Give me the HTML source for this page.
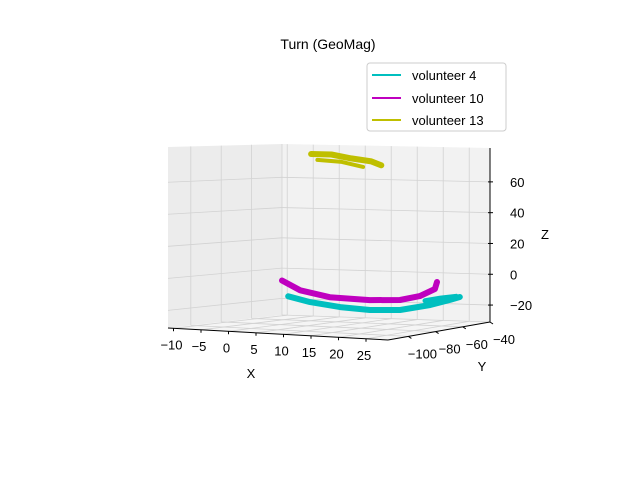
<!DOCTYPE html>
<html><head><meta charset="utf-8"><style>
body{margin:0;background:#fff;}
svg{display:block;font-family:"Liberation Sans","DejaVu Sans",sans-serif;}
</style></head><body>
<svg id="chart" width="640" height="480" viewBox="0 0 640 480" xmlns="http://www.w3.org/2000/svg">
<rect width="640" height="480" fill="#fff"/>
<text x="328" y="49" font-size="14" text-anchor="middle">Turn (GeoMag)</text>
<g id="panes"></g><g id="grid"></g><g id="series"></g><g id="axes"></g>
<g>
<rect x="367" y="63" width="139" height="68" rx="3" fill="#fff" stroke="#ccc"/>
<g><line x1="372" y1="75" x2="401" y2="75" stroke="#00bfbf" stroke-width="2"/><text x="412" y="80" font-size="13">volunteer 4</text></g>
<g><line x1="372" y1="98" x2="401" y2="98" stroke="#bf00bf" stroke-width="2"/><text x="412" y="103" font-size="13">volunteer 10</text></g>
<g><line x1="372" y1="120" x2="401" y2="120" stroke="#bfbf00" stroke-width="2"/><text x="412" y="125" font-size="13">volunteer 13</text></g>
</g>
</svg>
<script>
const xTicks=[-10,-5,0,5,10,15,20,25];
const yTicks=[-100,-80,-60,-40];
const zTicks=[-20,0,20,40,60];
const seriesNames=["volunteer 4","volunteer 10","volunteer 13"];
const seriesColors=["#00bfbf","#bf00bf","#bfbf00"];
const v4X=[-9.8,-5.6,0.2,5.9,11.7,17.5,21.3,23.2];
const v4Z=[-18.5,-21.9,-24.5,-25.8,-25.1,-21.2,-17.5,-15.4];
const v4bX=[16.5,19.5,22.5];
const v4bZ=[-18.5,-16.5,-15];
const v10X=[-11,-7.5,-1.8,5.9,11.7,15.5,18.4,18.8];
const v10Z=[-8.2,-14.3,-18.2,-19.3,-18.6,-15.6,-10.7,-6.1];
const v13X=[-5.4,-1.5,2.3,6.2,8.1];
const v13Z=[75.8,75.7,73.4,71.7,69.3];
const v13bX=[-4.2,0.5,4.6];
const v13bZ=[72,71,68];

const XMIN=-11,XMAX=29,YMIN=-115,YMAX=-40,ZMIN=-31,ZMAX=82;
const A=[168,328],B=[388,340],C=[490,322],D=[282,315];
const HA=181,HB=181,HC=174,HD=171;
const NS="http://www.w3.org/2000/svg";
function lerp(p,q,t){return [p[0]+(q[0]-p[0])*t,p[1]+(q[1]-p[1])*t];}
function proj(x,y,z){
 const u=(x-XMIN)/(XMAX-XMIN), v=(y-YMIN)/(YMAX-YMIN), w=(z-ZMIN)/(ZMAX-ZMIN);
 const f=lerp(lerp(A,B,u),lerp(D,C,u),v);
 const h=(HA*(1-u)+HB*u)*(1-v)+(HD*(1-u)+HC*u)*v;
 return [f[0],f[1]-w*h];
}
function el(tag,attrs,parent){const e=document.createElementNS(NS,tag);for(const k in attrs)e.setAttribute(k,attrs[k]);parent.appendChild(e);return e;}
function pts(a){return a.map(p=>p[0].toFixed(1)+","+p[1].toFixed(1)).join(" ");}
const panes=document.getElementById("panes"),grid=document.getElementById("grid"),series=document.getElementById("series"),axes=document.getElementById("axes");
let p=el("polygon",{points:pts([proj(XMIN,YMIN,ZMIN),proj(XMIN,YMAX,ZMIN),proj(XMIN,YMAX,ZMAX),proj(XMIN,YMIN,ZMAX)]),fill:"#ececec"},panes);

p=el("polygon",{points:pts([proj(XMIN,YMAX,ZMIN),proj(XMAX,YMAX,ZMIN),proj(XMAX,YMAX,ZMAX),proj(XMIN,YMAX,ZMAX)]),fill:"#f2f2f2"},panes);

p=el("polygon",{points:pts([proj(XMIN,YMIN,ZMIN),proj(XMAX,YMIN,ZMIN),proj(XMAX,YMAX,ZMIN),proj(XMIN,YMAX,ZMIN)]),fill:"#f5f5f5"},panes);

function gl(a,b){const l=el("line",{x1:a[0],y1:a[1],x2:b[0],y2:b[1],stroke:"#d2d2d2","stroke-width":0.8},grid);
}
xTicks.forEach(x=>{gl(proj(x,YMIN,ZMIN),proj(x,YMAX,ZMIN));gl(proj(x,YMAX,ZMIN),proj(x,YMAX,ZMAX));});
yTicks.forEach(y=>{gl(proj(XMIN,y,ZMIN),proj(XMAX,y,ZMIN));gl(proj(XMIN,y,ZMIN),proj(XMIN,y,ZMAX));});
zTicks.forEach(z=>{gl(proj(XMIN,YMIN,z),proj(XMIN,YMAX,z));gl(proj(XMIN,YMAX,z),proj(XMAX,YMAX,z));});
function drawLine(xs,zs,color,name,w){
 const pp=xs.map((x,i)=>proj(x,YMAX,zs[i]));
 const l=el("polyline",{points:pts(pp),fill:"none",stroke:color,"stroke-width":w,"stroke-linecap":"round","stroke-linejoin":"round"},series);
 
}
drawLine(v4X,v4Z,seriesColors[0],'series-volunteer-4',6);
drawLine(v4bX,v4bZ,seriesColors[0],'series-volunteer-4-trace-2',5);
drawLine(v10X,v10Z,seriesColors[1],'series-volunteer-10',6);
drawLine(v13X,v13Z,seriesColors[2],'series-volunteer-13',6);
drawLine(v13bX,v13bZ,seriesColors[2],'series-volunteer-13-trace-2',4);
function axl(a,b,name){const l=el("line",{x1:a[0],y1:a[1],x2:b[0],y2:b[1],stroke:"#000","stroke-width":1},axes);
}
axl(proj(XMIN,YMIN,ZMIN),proj(XMAX,YMIN,ZMIN),'x-axis-line');
axl(proj(XMAX,YMIN,ZMIN),proj(XMAX,YMAX,ZMIN),'y-axis-line');
axl(proj(XMAX,YMAX,ZMIN),proj(XMAX,YMAX,ZMAX),'z-axis-line');
function txt(s,x,y,name,anchor){const t=el("text",{x:x,y:y,"font-size":13,"text-anchor":anchor||"middle"},axes);t.textContent=s;
return t;}
function fmt(v){return v<0?"\u2212"+(-v):""+v;}
xTicks.forEach(x=>{const q=proj(x,YMIN,ZMIN);axl(q,[q[0],q[1]+3],'x-tick');txt(fmt(x),q[0]-2,q[1]+21,'x-tick-label');});
yTicks.forEach(y=>{const q=proj(XMAX,y,ZMIN);axl(q,[q[0]+3,q[1]+2],'y-tick');txt(fmt(y),q[0]+14,q[1]+22,'y-tick-label');});
zTicks.forEach(z=>{const q=proj(XMAX,YMAX,z);axl([q[0]-2,q[1]],[q[0]+3,q[1]],'z-tick');txt(fmt(z),q[0]+20,q[1]+5,'z-tick-label','start');});
txt("X",251,378,'x-axis-title');
txt("Y",482,371,'y-axis-title');
txt("Z",545,239,'z-axis-title');
</script>
</body></html>
